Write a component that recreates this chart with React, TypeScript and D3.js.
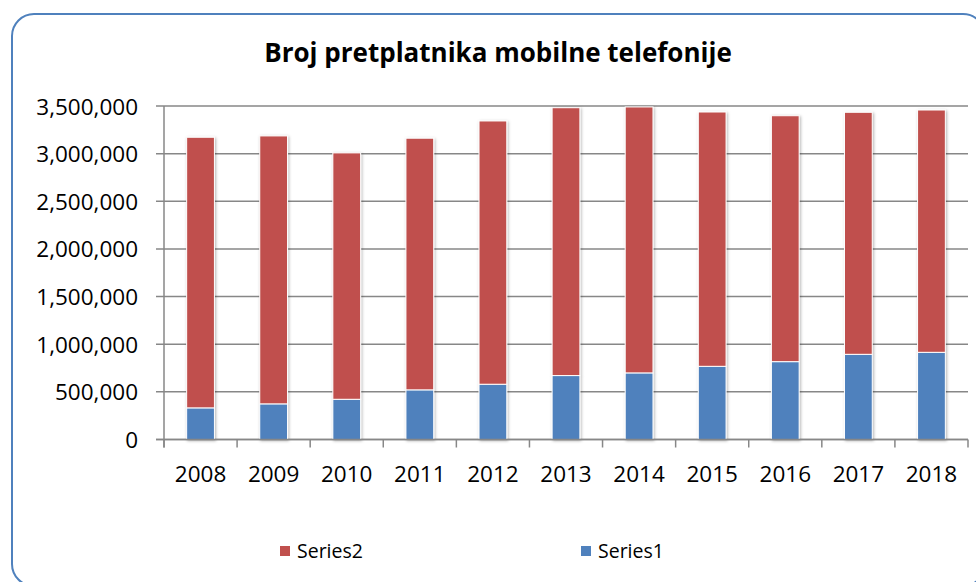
import { useEffect, useRef } from 'react';
import * as d3 from 'd3';

const years = ['2008', '2009', '2010', '2011', '2012', '2013', '2014', '2015', '2016', '2017', '2018'];
const series1 = [332000, 374000, 422000, 521000, 580000, 671000, 699000, 768000, 817000, 894000, 915000];
const series2 = [2840000, 2812000, 2586000, 2641000, 2763000, 2811000, 2791000, 2669000, 2581000, 2540000, 2543000];
const yTicks = [0, 500000, 1000000, 1500000, 2000000, 2500000, 3000000, 3500000];

const FONT = '"Open Sans", "Noto Sans", sans-serif';
const RED = '#C0504D';
const BLUE = '#4F81BD';
const GRID = '#878787';

export default function App() {
  const svgRef = useRef<SVGSVGElement>(null);

  useEffect(() => {
    document.body.style.margin = '0';
    if (!svgRef.current) return;
    const svg = d3.select(svgRef.current);
    svg.selectAll('*').remove();

    const W = 976;
    const H = 582;
    const margin = { top: 106, right: 8, bottom: 142.5, left: 164 };

    const defs = svg.append('defs');
    defs
      .append('filter')
      .attr('id', 'shadow')
      .attr('x', '-30%')
      .attr('y', '-10%')
      .attr('width', '160%')
      .attr('height', '120%')
      .append('feDropShadow')
      .attr('dx', 1)
      .attr('dy', 1)
      .attr('stdDeviation', 1.6)
      .attr('flood-color', '#000')
      .attr('flood-opacity', 0.3);

    svg.append('rect').attr('width', W).attr('height', H).attr('fill', '#fff');

    // Rounded chart border (runs past the right and bottom edges)
    svg
      .append('rect')
      .attr('x', 12)
      .attr('y', 14)
      .attr('width', 973)
      .attr('height', 572)
      .attr('rx', 22)
      .attr('fill', 'none')
      .attr('stroke', BLUE)
      .attr('stroke-width', 2);

    const x = d3
      .scaleBand()
      .domain(years)
      .range([margin.left, W - margin.right])
      .paddingInner(0.62)
      .paddingOuter(0.31);
    const step = x.step();

    const y = d3
      .scaleLinear()
      .domain([0, 3500000])
      .range([H - margin.bottom, margin.top]);

    // Title
    svg
      .append('text')
      .attr('x', 498)
      .attr('y', 62)
      .attr('text-anchor', 'middle')
      .attr('font-family', FONT)
      .attr('font-weight', 'bold')
      .attr('font-size', 26)
      .attr('fill', '#000')
      .text('Broj pretplatnika mobilne telefonije');

    // Gridlines + y ticks
    svg
      .append('g')
      .selectAll('line')
      .data(yTicks)
      .enter()
      .append('line')
      .attr('x1', margin.left - 8)
      .attr('x2', W - margin.right)
      .attr('y1', (d) => y(d))
      .attr('y2', (d) => y(d))
      .attr('stroke', GRID)
      .attr('stroke-width', 1.5);

    // Y labels
    const fmt = d3.format(',');
    svg
      .append('g')
      .selectAll('text')
      .data(yTicks)
      .enter()
      .append('text')
      .attr('x', 138)
      .attr('y', (d) => y(d) + 8.5)
      .attr('text-anchor', 'end')
      .attr('font-family', FONT)
      .attr('font-size', 22.5)
      .attr('fill', '#000')
      .text((d) => fmt(d));

    // Stacked bars
    const rows = years.map((yr, i) => ({ year: yr, s1: series1[i], s2: series2[i] }));
    const bars = svg.append('g').attr('filter', 'url(#shadow)');
    bars
      .selectAll('.s1')
      .data(rows)
      .enter()
      .append('rect')
      .attr('x', (d) => x(d.year) || 0)
      .attr('y', (d) => y(d.s1))
      .attr('width', x.bandwidth())
      .attr('height', (d) => y(0) - y(d.s1))
      .attr('fill', BLUE)
      .attr('stroke', '#fff')
      .attr('stroke-width', 1);
    bars
      .selectAll('.s2')
      .data(rows)
      .enter()
      .append('rect')
      .attr('x', (d) => x(d.year) || 0)
      .attr('y', (d) => y(d.s1 + d.s2))
      .attr('width', x.bandwidth())
      .attr('height', (d) => y(d.s1) - y(d.s1 + d.s2))
      .attr('fill', RED)
      .attr('stroke', '#fff')
      .attr('stroke-width', 1);

    // Axes lines
    svg
      .append('line')
      .attr('x1', margin.left)
      .attr('x2', margin.left)
      .attr('y1', y(3500000))
      .attr('y2', y(0) + 8)
      .attr('stroke', GRID)
      .attr('stroke-width', 1.5);
    svg
      .append('line')
      .attr('x1', margin.left - 8)
      .attr('x2', W - margin.right)
      .attr('y1', y(0))
      .attr('y2', y(0))
      .attr('stroke', GRID)
      .attr('stroke-width', 1.5);

    // X ticks at category boundaries
    const bounds = years.map((yr) => (x(yr) || 0) + x.bandwidth() / 2 - step / 2);
    bounds.push(W - margin.right);
    svg
      .append('g')
      .selectAll('line')
      .data(bounds)
      .enter()
      .append('line')
      .attr('x1', (d) => d)
      .attr('x2', (d) => d)
      .attr('y1', y(0))
      .attr('y2', y(0) + 8)
      .attr('stroke', GRID)
      .attr('stroke-width', 1.5);

    // X labels
    svg
      .append('g')
      .selectAll('text')
      .data(years)
      .enter()
      .append('text')
      .attr('x', (d) => (x(d) || 0) + x.bandwidth() / 2)
      .attr('y', 482)
      .attr('text-anchor', 'middle')
      .attr('font-family', FONT)
      .attr('font-size', 22.5)
      .attr('fill', '#000')
      .text((d) => d);

    // Legend
    const legend = [
      { name: 'Series2', color: RED, x: 280 },
      { name: 'Series1', color: BLUE, x: 581 },
    ];
    const lg = svg
      .append('g')
      .selectAll('g')
      .data(legend)
      .enter()
      .append('g')
      .attr('transform', (d) => `translate(${d.x},546)`);
    lg.append('rect').attr('width', 10).attr('height', 10).attr('fill', (d) => d.color);
    lg.append('text')
      .attr('x', 17)
      .attr('y', 11.5)
      .attr('font-family', FONT)
      .attr('font-size', 19.5)
      .attr('fill', '#000')
      .text((d) => d.name);
  }, []);

  return (
    <div style={{ position: 'absolute', left: 0, top: 0, width: 976, height: 582, overflow: 'hidden' }}>
      <svg ref={svgRef} width={976} height={582} style={{ display: 'block' }} />
    </div>
  );
}
